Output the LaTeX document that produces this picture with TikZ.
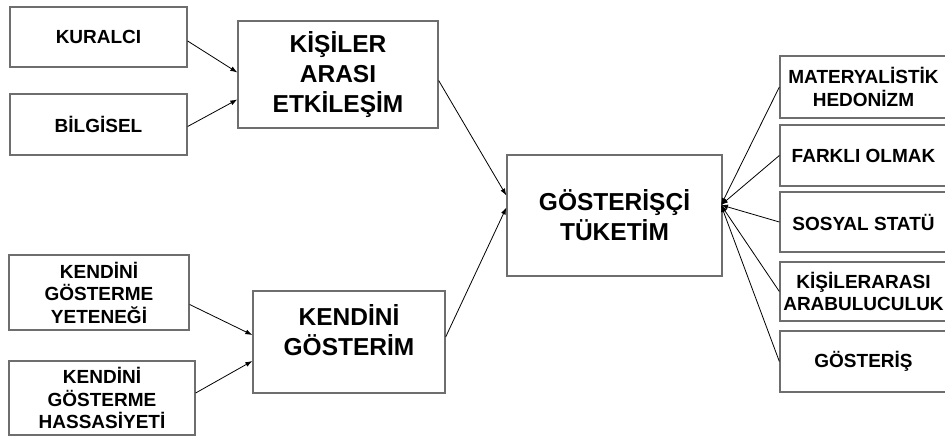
\documentclass[tikz,border=0pt]{standalone}
\usepackage{fontspec}
\setmainfont{Liberation Sans}
\usepackage{tikz}
\usetikzlibrary{arrows.meta, calc, positioning}
\definecolor{boxgray}{RGB}{110,110,110}

\begin{document}
\begin{tikzpicture}[
  x=1pt, y=-1pt,
  box/.style={rectangle, draw=boxgray, line width=1.3pt, align=center,
    inner sep=0pt, font=\fontsize{19}{22.5}\selectfont\bfseries},
  bigbox/.style={box, font=\fontsize{24.5}{30}\selectfont\bfseries},
  arr/.style={-{Latex[length=7pt,width=5pt]}, line width=0.8pt, black},
]
%% Column widths: left=177, middle=200, centre=215, right=167
\def\wL{177} \def\wM{200} \def\wC{215} \def\wR{167}
\def\xr{863.5}        % x centre of right column

\useasboundingbox (0,0) rectangle (945,436);

%% ── Left column ─────────────────────────────────────────────────────────────
\node[box, minimum width=\wL, minimum height=60] (kuralci)  at (98.5, 37)    {KURALCI};
\node[box, minimum width=\wL, minimum height=61] (bilgisel) at (98.5, 124.5) {BİLGİSEL};
\node[box, minimum width=180, minimum height=75] (yetenek)  at (99, 292.5)
  {KENDİNİ\\GÖSTERME\\YETENEĞİ};
\node[box, minimum width=186, minimum height=74] (hassas)   at (102, 398)
  {KENDİNİ\\GÖSTERME\\HASSASİYETİ};

%% ── Middle column ───────────────────────────────────────────────────────────
\node[bigbox, minimum width=\wM, minimum height=107] (kisiler) at (338, 74.5)
  {KİŞİLER\\ARASI\\ETKİLEŞİM};
\node[bigbox, minimum width=192, minimum height=102] (kendini) at (349, 342)
  {KENDİNİ\\GÖSTERİM\\[-6pt]\mbox{}};

%% ── Centre ──────────────────────────────────────────────────────────────────
\node[bigbox, minimum width=\wC, minimum height=121] (gosterisci) at (614.5, 215.5)
  {GÖSTERİŞÇİ\\TÜKETİM};
\coordinate (hub) at (721, 205);

%% ── Right column ────────────────────────────────────────────────────────────
\node[box, minimum width=\wR, minimum height=62] (materyal)  at (\xr, 87)
  {MATERYALİSTİK\\HEDONİZM};
\node[box, minimum width=\wR, minimum height=61] (farkli)    at (\xr, 155.5) {FARKLI OLMAK};
\node[box, minimum width=\wR, minimum height=60] (sosyal)    at (\xr, 222)   {SOSYAL STATÜ};
\node[box, minimum width=\wR, minimum height=59] (arabulucu) at (\xr, 291.5)
  {KİŞİLERARASI\\ARABULUCULUK};
\node[box, minimum width=\wR, minimum height=61] (gosteris)  at (\xr, 361.5) {GÖSTERİŞ};

%% ── Connectors ──────────────────────────────────────────────────────────────
\draw[arr] ([yshift=-4pt]kuralci.east) -- ([yshift=2pt]kisiler.west);
\draw[arr] ([yshift=-2pt]bilgisel.east) -- ([yshift=-25pt]kisiler.west);
\draw[arr] ([yshift=-12pt]yetenek.east) -- ([yshift=7pt]kendini.west);
\draw[arr] ([yshift=5pt]hassas.east) -- ([yshift=-19pt]kendini.west);
\draw[arr] ([yshift=-6pt]kisiler.east) -- ([yshift=20pt]gosterisci.west);
\draw[arr] ([yshift=5pt]kendini.east) -- ([yshift=8pt]gosterisci.west);

%% fan into the centre box
\foreach \n in {materyal, farkli, sosyal, arabulucu, gosteris}
  \draw[arr] (\n.west) -- (hub);

\end{tikzpicture}
\end{document}
